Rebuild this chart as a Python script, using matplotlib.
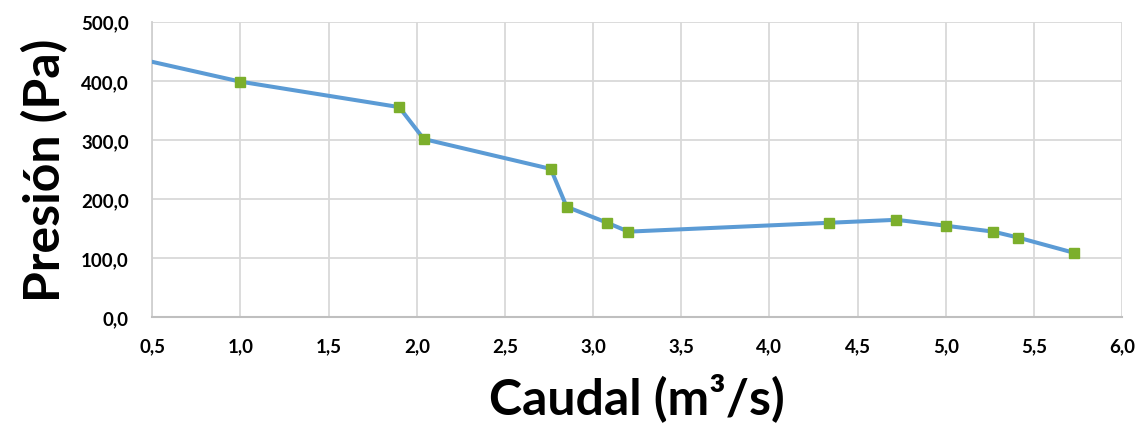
import matplotlib
matplotlib.use('Agg')
import matplotlib.pyplot as plt
from matplotlib.ticker import FuncFormatter, MultipleLocator

# Caudal (m3/s) vs Presion (Pa)
caudal = [0.5, 1.0, 1.9, 2.04, 2.76, 2.85, 3.08, 3.2, 4.34, 4.72, 5.0, 5.27, 5.41, 5.73]
presion = [432, 398.5, 355.5, 301.5, 251, 187, 160, 145, 160, 165, 155, 145, 135, 109]

plt.rcParams['font.family'] = ['Lato', 'DejaVu Sans']
plt.rcParams['font.weight'] = 'bold'

fig = plt.figure(figsize=(11.45, 4.35), dpi=100)
ax = fig.add_axes([0.133, 0.268, 0.847, 0.680])

# first point has no marker (line comes in from the left edge)
ax.plot(caudal, presion, color='#5B9BD5', linewidth=2.9,
        marker='s', markersize=7.5, markerfacecolor='#7CAF2C',
        markeredgecolor='#7CAF2C', markevery=list(range(1, len(caudal))),
        zorder=3)

ax.set_xlim(0.5, 6.0)
ax.set_ylim(0, 500)
ax.xaxis.set_major_locator(MultipleLocator(0.5))
ax.yaxis.set_major_locator(MultipleLocator(100))
comma = FuncFormatter(lambda v, p: f'{v:.1f}'.replace('.', ','))
ax.xaxis.set_major_formatter(comma)
ax.yaxis.set_major_formatter(comma)

ax.grid(True, color='#D9D9D9', linewidth=1.3)
ax.set_axisbelow(True)
for s in ['top', 'right']:
    ax.spines[s].set_visible(False)
ax.spines['left'].set_color('#D0D0D0')
ax.spines['bottom'].set_color('#BFBFBF')
ax.spines['left'].set_linewidth(1.3)
ax.spines['bottom'].set_linewidth(1.5)

ax.tick_params(axis='both', length=0, labelsize=13.5)
ax.tick_params(axis='y', pad=17)
ax.tick_params(axis='x', pad=14)
for lbl in ax.get_xticklabels() + ax.get_yticklabels():
    lbl.set_fontweight('bold')

ax.set_xlabel('Caudal (m³/s)', fontsize=36, fontweight='bold', labelpad=13)
ax.set_ylabel('Presión (Pa)', fontsize=36, fontweight='bold', labelpad=9)

fig.savefig('out.png', dpi=100)
